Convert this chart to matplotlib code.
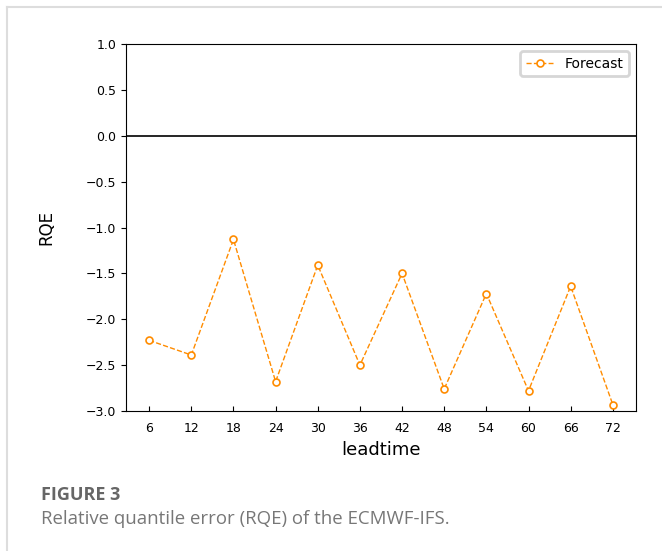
import matplotlib.pyplot as plt
from matplotlib.lines import Line2D

# данные
leadtime = [6, 12, 18, 24, 30, 36, 42, 48, 54, 60, 66, 72]
rqe = [-2.23, -2.39, -1.13, -2.68, -1.41, -2.50, -1.50, -2.76, -1.72, -2.78, -1.64, -2.93]
yticks = [1.0, 0.5, 0.0, -0.5, -1.0, -1.5, -2.0, -2.5, -3.0]

fig = plt.figure(figsize=(6.62, 5.51), dpi=100)
ax = fig.add_axes([0.1903, 0.2541, 0.7704, 0.666])

ax.plot(leadtime, rqe, linestyle='--', color='darkorange', linewidth=1,
        marker='o', markersize=5, markerfacecolor='white', markeredgecolor='darkorange',
        markeredgewidth=1.2, label='Forecast')
ax.axhline(0, color='black', linewidth=1.2)

ax.set_ylim(-3.0, 1.0)
ax.set_yticks(yticks)
ax.set_xticks(leadtime)
ax.tick_params(axis='x', direction='in', labelsize=9, pad=8)
ax.tick_params(axis='y', direction='out', labelsize=9)
ax.set_xlabel('leadtime', fontsize=13)
ax.set_ylabel('RQE', fontsize=12)
ax.yaxis.set_label_coords(-0.139, 0.5)

leg = ax.legend(loc='upper right', fontsize=10, fancybox=True)
leg.get_frame().set_edgecolor('#cccccc')
leg.get_frame().set_linewidth(2)

# рамка и подпись как в статье
fig.add_artist(Line2D([7 / 662, 1], [1 - 7 / 551, 1 - 7 / 551], color='#dddddd', linewidth=1.5))
fig.add_artist(Line2D([7 / 662, 7 / 662], [0, 1 - 7 / 551], color='#dddddd', linewidth=1.5))
fig.text(41 / 662, 1 - 495 / 551, 'FIGURE 3', fontsize=13, fontweight='bold', color='#666666',
         family='Open Sans', va='center')
fig.text(41 / 662, 1 - 519 / 551, 'Relative quantile error (RQE) of the ECMWF-IFS.', fontsize=13.4,
         color='#777777', family='Open Sans', va='center')

fig.savefig('out.png', dpi=100)
